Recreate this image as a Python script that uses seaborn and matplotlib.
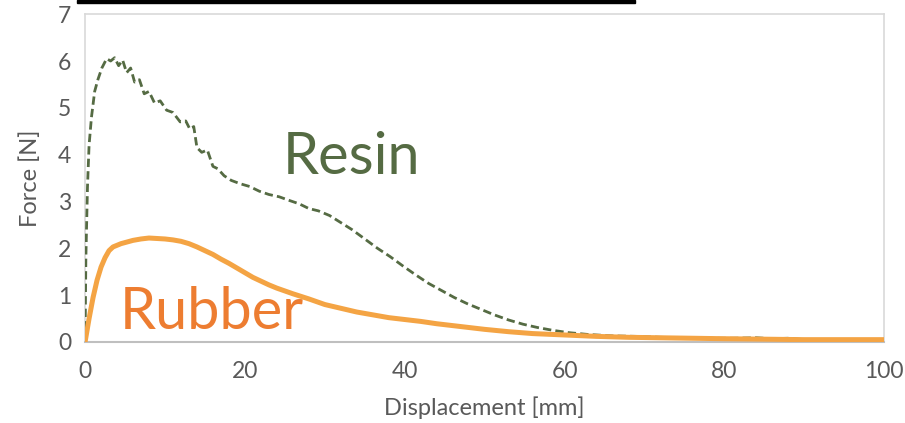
import numpy as np
import pandas as pd
import matplotlib
matplotlib.use("Agg")
import matplotlib.pyplot as plt
import seaborn as sns
from matplotlib.patches import Rectangle

# 数据
resin_x = [0, 0.1, 0.3, 0.5, 0.8, 1.2, 1.6, 2.1, 2.7, 3.2, 3.7, 4.2, 4.7, 5.2, 5.7,
           6.2, 6.8, 7.4, 8.0, 8.7, 9.4, 10.2, 11.0, 11.9, 12.6, 13.1, 13.6, 14.0,
           14.6, 15.3, 16.0, 16.6, 17.4, 18.3, 19.4, 20.6, 21.8, 23.0, 24.3, 25.6,
           26.8, 28.0, 29.2, 30.6, 32.0, 33.4, 35.0, 36.6, 38.2, 39.8, 41.4, 43.0,
           44.6, 46.2, 47.8, 49.5, 51.2, 53.0, 54.8, 56.6, 58.5, 60.5, 63, 66, 69,
           72, 75, 78, 81, 84, 86, 88, 90, 91.5]
resin_y = [0, 1.8, 3.3, 4.2, 4.8, 5.35, 5.6, 5.85, 6.05, 6.0, 6.07, 5.9, 6.02, 5.75,
           5.85, 5.55, 5.6, 5.3, 5.35, 5.1, 5.15, 4.95, 4.9, 4.7, 4.72, 4.55, 4.6,
           4.15, 4.05, 4.1, 3.75, 3.7, 3.55, 3.45, 3.38, 3.32, 3.22, 3.15, 3.1, 3.02,
           2.95, 2.85, 2.8, 2.7, 2.55, 2.4, 2.2, 2.0, 1.82, 1.62, 1.43, 1.25, 1.1,
           0.95, 0.82, 0.7, 0.58, 0.47, 0.38, 0.31, 0.25, 0.2, 0.16, 0.13, 0.12, 0.1,
           0.09, 0.08, 0.08, 0.09, 0.07, 0.08, 0.05, 0.02]

rubber_x = [0, 0.5, 1.0, 1.5, 2.0, 2.5, 3.0, 3.5, 4.5, 6, 7, 8, 9, 10, 11, 12, 13,
            14, 15, 16, 17, 18, 19, 20, 21, 22, 23, 24, 26, 28, 30, 32, 34, 36, 38,
            40, 42, 44, 46, 48, 50, 53, 56, 60, 64, 68, 72, 76, 80, 85, 90, 95, 100]
rubber_y = [0, 0.5, 0.95, 1.32, 1.6, 1.8, 1.95, 2.03, 2.1, 2.17, 2.2, 2.22, 2.21,
            2.2, 2.18, 2.15, 2.1, 2.03, 1.95, 1.87, 1.77, 1.68, 1.58, 1.48, 1.38,
            1.3, 1.22, 1.15, 1.03, 0.92, 0.8, 0.72, 0.64, 0.58, 0.52, 0.48, 0.44,
            0.39, 0.35, 0.31, 0.27, 0.22, 0.18, 0.15, 0.12, 0.1, 0.09, 0.08, 0.07,
            0.06, 0.05, 0.05, 0.05]

x_ticks = [0, 20, 40, 60, 80, 100]
y_ticks = [0, 1, 2, 3, 4, 5, 6, 7]

resin_color = "#556B43"
rubber_line_color = "#F4A444"
rubber_text_color = "#ED7D31"
grey = "#595959"

sns.set_style("white")
plt.rcParams['font.family'] = ['Lato', 'DejaVu Sans']

fig = plt.figure(figsize=(9.05, 4.23), dpi=100)
ax = fig.add_axes([0.094, 0.1915, 0.883, 0.775])

resin = pd.DataFrame({'x': resin_x, 'y': resin_y})
rubber = pd.DataFrame({'x': rubber_x, 'y': rubber_y})

sns.lineplot(data=resin, x='x', y='y', ax=ax, color=resin_color, linewidth=2.0,
             linestyle=(0, (3, 1.5)), zorder=3)
sns.lineplot(data=rubber, x='x', y='y', ax=ax, color=rubber_line_color, linewidth=3.6,
             zorder=4, solid_capstyle='butt')

ax.set_xlim(0, 100)
ax.set_ylim(0, 7)
ax.set_xticks(x_ticks)
ax.set_yticks(y_ticks)
ax.tick_params(axis='x', length=0, labelsize=16.5, colors=grey, pad=14)
ax.tick_params(axis='y', length=0, labelsize=16.5, colors=grey, pad=10)
ax.set_xlabel('Displacement [mm]', fontsize=17, color=grey, labelpad=10)
ax.set_ylabel('Force [N]', fontsize=17, color=grey, labelpad=12)

for side in ['top', 'right', 'left']:
    ax.spines[side].set_color('#D9D9D9')
    ax.spines[side].set_linewidth(1.2)
ax.spines['bottom'].set_color('#BFBFBF')
ax.spines['bottom'].set_linewidth(1.5)

ax.text(33.4, 3.95, 'Resin', fontsize=41.5, color=resin_color, ha='center', va='center')
ax.text(15.9, 0.62, 'Rubber', fontsize=41.5, color=rubber_text_color, ha='center', va='center')

# 顶部黑条
fig.patches.append(Rectangle((77 / 905, 1 - 3 / 423), 558 / 905, 3 / 423,
                             transform=fig.transFigure, color='black', zorder=10))

fig.savefig('out.png', dpi=100)
